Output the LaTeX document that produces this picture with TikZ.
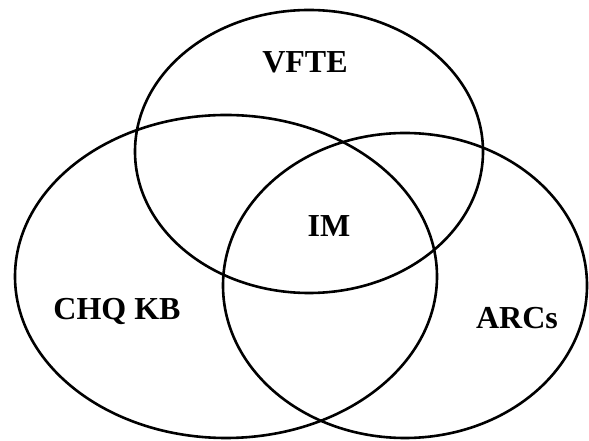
\documentclass[tikz,border=0pt]{standalone}
\usepackage{fontspec}
\setmainfont{Liberation Serif}
\begin{document}
\begin{tikzpicture}[x=1pt,y=1pt,
  venn/.style={draw=black,line width=2.6pt},
  lbl/.style={font=\fontsize{32}{36}\selectfont\bfseries,inner sep=0pt}]
\useasboundingbox (0,0) rectangle (589,441);
\fill[white] (0,0) rectangle (589,441);
\draw[venn] (309,289.5) ellipse [x radius=174, y radius=141.5];
\draw[venn] (226,164.5) ellipse [x radius=211, y radius=161.5];
\draw[venn] (405,155.5) ellipse [x radius=182, y radius=152.5];
\node[lbl] (vfte) at (305,379) {VFTE};
\node[lbl] (im) at (329,215) {IM};
\node[lbl] (chq) at (117,129) {CHQ KB};
\node[lbl] (arcs) at (517,123) {ARCs};
\end{tikzpicture}
\end{document}
